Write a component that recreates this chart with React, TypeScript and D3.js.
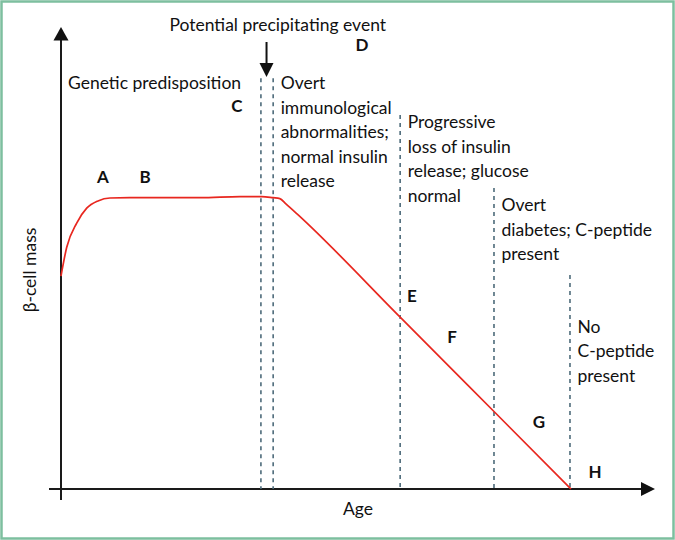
import React from 'react';
import * as d3 from 'd3';

// curve knots (age and beta-cell mass, 100 = plateau)
const ageKnots = [0, 1.12, 3.08, 5.04, 7.25, 9.6, 13.5, 27.3, 35.1, 39.4, 41.6, 42.9, 44.1, 46.5, 66.5, 84.9, 100];
const massKnots = [73.1, 83.0, 91.3, 96.4, 98.9, 99.9, 100, 100, 100.4, 100.4, 100, 99.7, 97.9, 94.1, 59, 26.6, 0];

// dashed stage markers
const stageAges = [39.2, 41.6, 66.5, 84.9, 99.8];
const stageTops = [141, 141, 128.4, 103.3, 73.5];

// stage descriptions: which marker they sit right of, first baseline (mass units)
const stageTexts = [
  ['Overt', 'immunological', 'abnormalities;', 'normal insulin', 'release'],
  ['Progressive', 'loss of insulin', 'release; glucose', 'normal'],
  ['Overt', 'diabetes; C-peptide', 'present'],
  ['No', 'C-peptide', 'present'],
];
const stageTextMarker = [1, 2, 3, 4];
const stageTextTop = [137.3, 123.9, 95.4, 53.6];

const letters = ['A', 'B', 'C', 'D', 'E', 'F', 'G', 'H'];
const letterAge = [8.2, 16.5, 34.5, 59, 68.8, 76.7, 93.7, 104.7];
const letterMass = [105, 105, 129.4, 150.2, 64.2, 50.1, 20.9, 3.8];

const width = 675;
const height = 540;
const font = "Lato, 'Noto Sans', sans-serif";
const fs = 17.5;

export default function App() {
  const x = d3.scaleLinear().domain([0, 100]).range([61, 571]);
  const y = d3.scaleLinear().domain([0, 100]).range([489, 197.7]);

  const line = d3
    .line<number>()
    .x((_, i) => x(ageKnots[i]))
    .y((d) => y(d))
    .curve(d3.curveMonotoneX);

  const x0 = x(0);
  const y0 = y(0);
  const lineH = 24.6;
  const arrowX = x(40.3);

  return (
    <svg
      width={width}
      height={height}
      style={{ position: 'absolute', left: 0, top: 0, background: '#fff' }}
      fontFamily={font}
    >
      <rect x={1.5} y={1.5} width={width - 3} height={height - 3} fill="#fff" stroke="#7dbf9f" strokeWidth={2.5} />

      {/* axes */}
      <line x1={x0} y1={40} x2={x0} y2={500} stroke="#1a1a1a" strokeWidth={2} />
      <path d={`M${x0},27 L${x0 - 7.5},40.5 L${x0 + 7.5},40.5 Z`} fill="#111" />
      <line x1={49} y1={y0} x2={642} y2={y0} stroke="#1a1a1a" strokeWidth={2} />
      <path d={`M655,${y0} L641,${y0 - 7} L641,${y0 + 7} Z`} fill="#111" />

      {/* stage markers */}
      {stageAges.map((a, i) => (
        <line
          key={i}
          x1={x(a)}
          x2={x(a)}
          y1={y(stageTops[i])}
          y2={y0}
          stroke="#4d6b7a"
          strokeWidth={1.6}
          strokeDasharray="4,4"
        />
      ))}

      <path d={line(massKnots) || ''} fill="none" stroke="#e8271f" strokeWidth={1.7} />

      {/* stage text */}
      {stageTexts.map((rows, i) =>
        rows.map((t, j) => (
          <text
            key={`${i}-${j}`}
            x={x(stageAges[stageTextMarker[i]]) + 7.5}
            y={y(stageTextTop[i]) + j * lineH}
            fontSize={fs}
            fill="#111"
          >
            {t}
          </text>
        ))
      )}

      <text x={x(1.37)} y={y(137.3)} fontSize={fs} fill="#111">
        Genetic predisposition
      </text>
      <text x={x(42.5)} y={y(157.3)} fontSize={fs} fill="#111" textAnchor="middle">
        Potential precipitating event
      </text>
      <line x1={arrowX} x2={arrowX} y1={42} y2={65} stroke="#111" strokeWidth={2} />
      <path d={`M${arrowX},77 L${arrowX - 7},63 L${arrowX + 7},63 Z`} fill="#111" />

      {letters.map((l, i) => (
        <text
          key={l}
          x={x(letterAge[i])}
          y={y(letterMass[i])}
          fontSize={17}
          fontWeight={700}
          fill="#111"
          textAnchor="middle"
        >
          {l}
        </text>
      ))}

      <text x={358} y={515} fontSize={fs} textAnchor="middle" fill="#111">
        Age
      </text>
      <text
        transform="translate(36,270) rotate(-90)"
        fontSize={fs}
        textAnchor="middle"
        fill="#111"
      >
        β-cell mass
      </text>
    </svg>
  );
}
